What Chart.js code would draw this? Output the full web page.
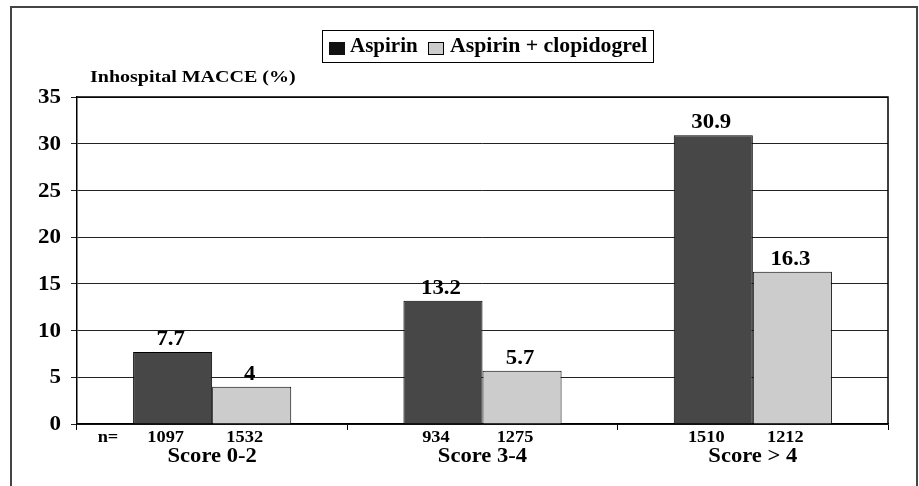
<!DOCTYPE html>
<html>
<head>
<meta charset="utf-8">
<script src="https://cdn.jsdelivr.net/npm/chart.js@4/dist/chart.umd.min.js"></script>
<style>
  html, body { margin: 0; padding: 0; background: #fff; }
  #wrap { position: relative; width: 919px; height: 486px; }
  #frame { position: absolute; left: 10px; top: 6px; width: 908px; height: 490px;
           border: 2px solid #444; border-bottom: none; box-sizing: border-box; }
  canvas { position: absolute; left: 0; top: 0; }
</style>
</head>
<body>
<div id="wrap">
  <div id="frame"></div>
  <canvas id="chart" width="919" height="486"></canvas>
</div>
<script>
const categories = ['Score 0-2', 'Score 3-4', 'Score > 4'];
const aspirin = [7.7, 13.2, 30.9];
const aspirinClopi = [4, 5.7, 16.3];
const nAspirin = [1097, 934, 1510];
const nAspirinClopi = [1532, 1275, 1212];
const seriesNames = ['Aspirin', 'Aspirin + clopidogrel'];
const yMax = 35;
const yStep = 5;

const serif = '"Liberation Serif", "Times New Roman", serif';

// the original text is a bit wider than Times, so stretch it horizontally
function text(ctx, str, x, y, size, align, stretch) {
    ctx.save();
    ctx.font = 'bold ' + size + 'px ' + serif;
    ctx.textAlign = align;
    ctx.translate(x, y);
    ctx.scale(stretch, 1);
    ctx.fillText(str, 0, 0);
    ctx.restore();
}

const extras = {
    id: 'extras',
    afterDraw(chart) {
        const ctx = chart.ctx;
        const a = chart.chartArea;
        ctx.save();

        // top and right border of plot area
        ctx.strokeStyle = '#000';
        ctx.lineWidth = 1.5;
        ctx.beginPath();
        ctx.moveTo(a.left, a.top);
        ctx.lineTo(a.right, a.top);
        ctx.lineTo(a.right, a.bottom);
        ctx.stroke();

        ctx.fillStyle = '#000';
        ctx.textBaseline = 'middle';

        // y tick labels
        const ys = chart.scales.y;
        ys.ticks.forEach((t) => {
            text(ctx, String(t.value), 61, ys.getPixelForValue(t.value) + 1, 20, 'right', 1.15);
        });

        // category labels
        const xs = chart.scales.x;
        categories.forEach((c, i) => {
            text(ctx, c, xs.getPixelForTick(i), a.bottom + 33, 20, 'center', 1.13);
        });

        // axis title
        text(ctx, 'Inhospital MACCE (%)', 90, 78, 16, 'left', 1.25);

        // value labels
        ctx.textBaseline = 'alphabetic';
        chart.data.datasets.forEach((ds, i) => {
            chart.getDatasetMeta(i).data.forEach((bar, j) => {
                text(ctx, String(ds.data[j]), bar.x - 2, bar.y - 7, 20, 'center', 1.14);
            });
        });

        // n= row
        ctx.textBaseline = 'middle';
        const nRows = [nAspirin, nAspirinClopi];
        nRows.forEach((row, i) => {
            chart.getDatasetMeta(i).data.forEach((bar, j) => {
                text(ctx, String(row[j]), bar.x - 7, a.bottom + 14, 17, 'center', 1.08);
            });
        });
        text(ctx, 'n=', 108, a.bottom + 14, 17, 'center', 1.08);

        // legend
        ctx.lineWidth = 1;
        ctx.strokeStyle = '#000';
        ctx.strokeRect(322.5, 30.5, 331, 32);
        ctx.fillStyle = '#111';
        ctx.fillRect(329, 42, 16, 13);
        ctx.fillStyle = '#cccccc';
        ctx.fillRect(428, 42, 16, 13);
        ctx.strokeRect(428.5, 42.5, 15, 12);
        ctx.fillStyle = '#000';
        text(ctx, seriesNames[0], 350, 47, 20, 'left', 1.05);
        text(ctx, seriesNames[1], 450, 47, 20, 'left', 1.09);

        ctx.restore();
    }
};

new Chart(document.getElementById('chart'), {
    type: 'bar',
    data: {
        labels: categories,
        datasets: [
            { label: seriesNames[0], data: aspirin, backgroundColor: '#474747', borderColor: '#000', borderWidth: 1 },
            { label: seriesNames[1], data: aspirinClopi, backgroundColor: '#cccccc', borderColor: '#000', borderWidth: 1 }
        ]
    },
    options: {
        responsive: false,
        animation: false,
        layout: { padding: { left: 0, top: 97, right: 31, bottom: 0 } },
        datasets: { bar: { categoryPercentage: 0.585, barPercentage: 1 } },
        plugins: { legend: { display: false }, tooltip: { enabled: false } },
        scales: {
            x: {
                afterFit: (s) => { s.height = 62; },
                grid: { offset: true, drawOnChartArea: false, color: '#000', tickLength: 6 },
                border: { color: '#000', width: 1.5 },
                ticks: { display: false }
            },
            y: {
                min: 0,
                max: yMax,
                afterFit: (s) => { s.width = 77; },
                grid: { color: '#222', tickLength: 6 },
                border: { color: '#000', width: 1.5 },
                ticks: { stepSize: yStep, display: false }
            }
        }
    },
    plugins: [extras]
});
</script>
</body>
</html>
